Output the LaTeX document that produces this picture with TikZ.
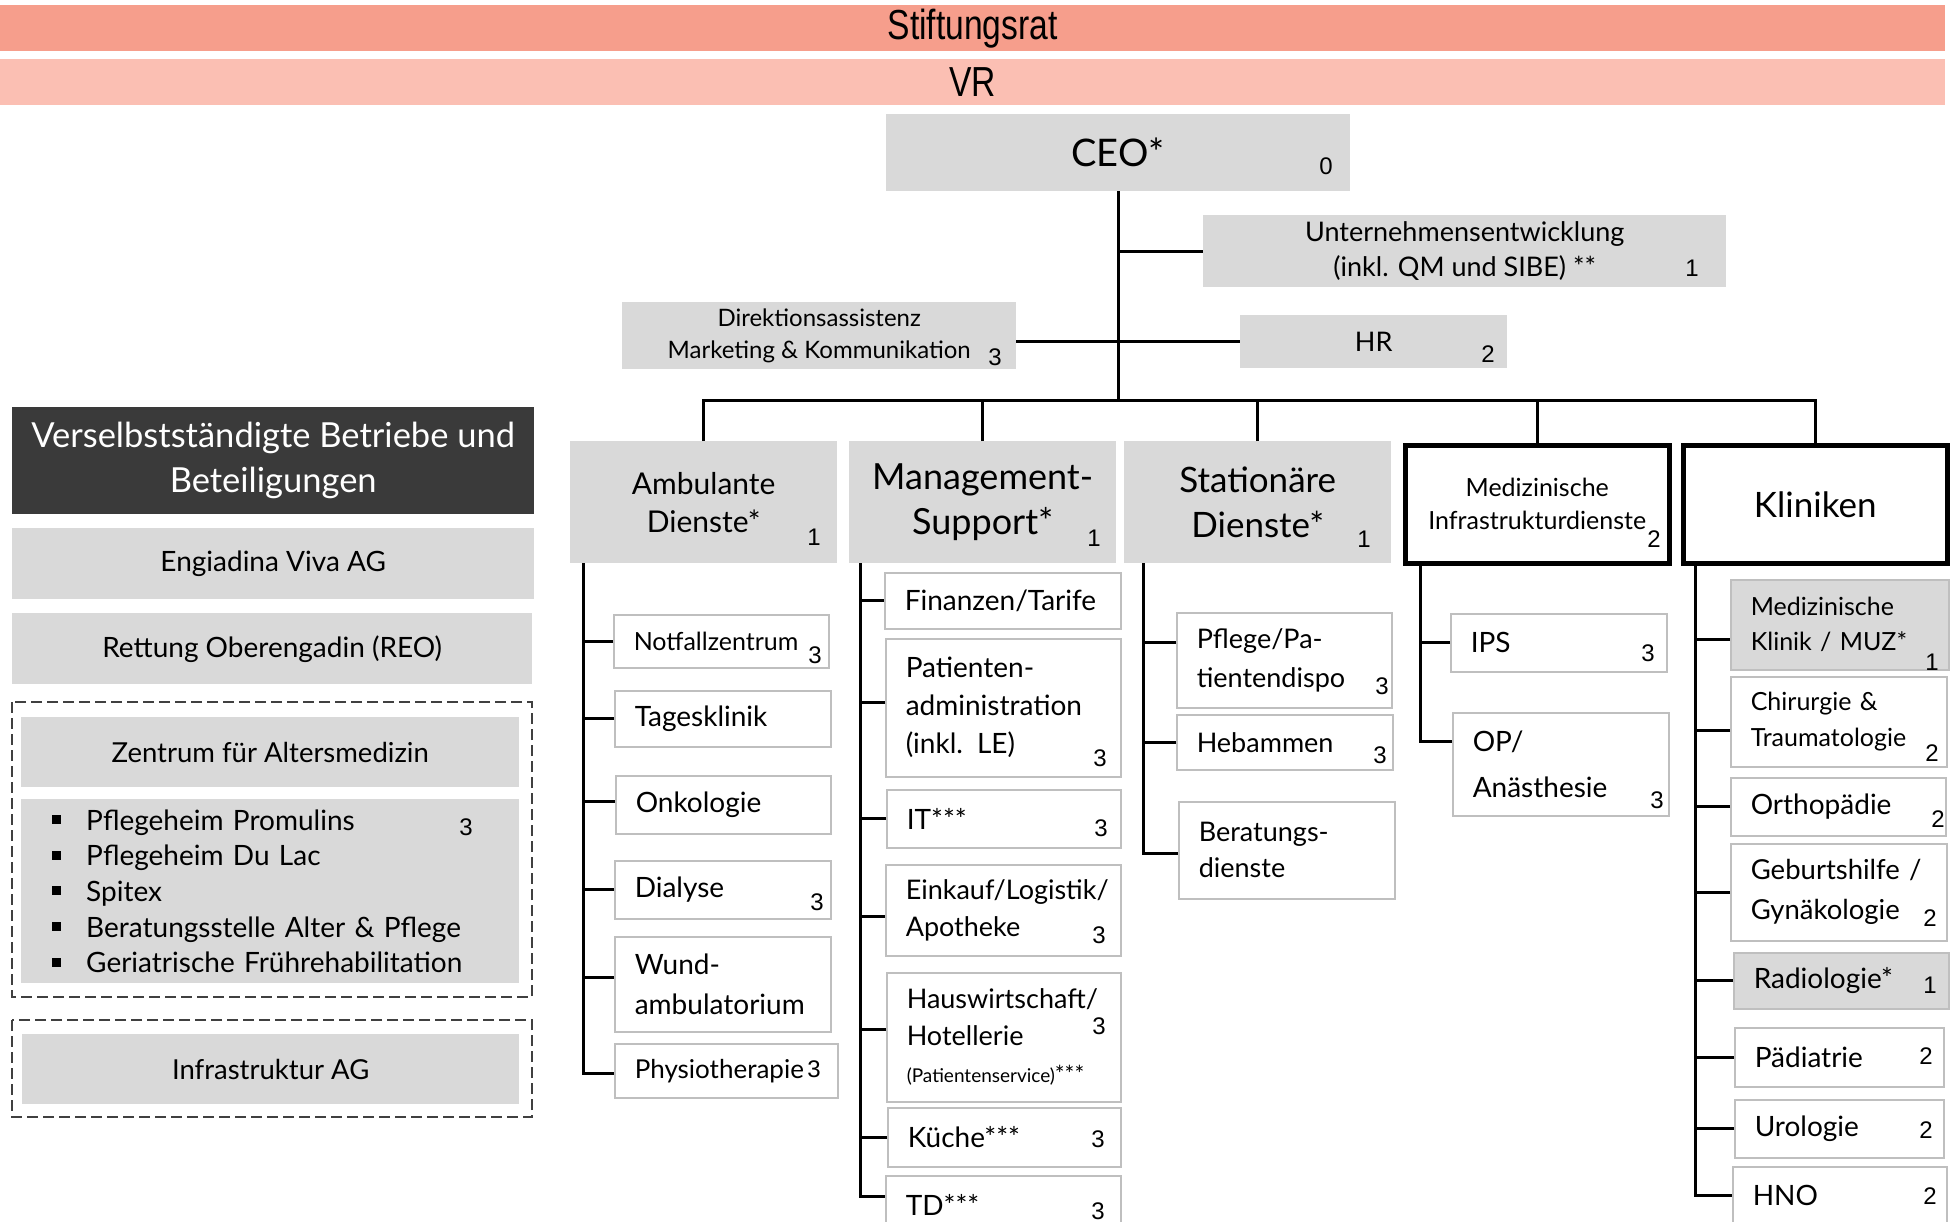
\documentclass[tikz,border=0pt]{standalone}
\usepackage{fontspec}
\setmainfont{Lato}
\newfontfamily\arialfont{Liberation Sans}
\usepackage{graphicx}
\usepackage{tikz}

\definecolor{ratred}{HTML}{F69E8C}
\definecolor{vrpink}{HTML}{FBBFB3}
\definecolor{boxgray}{HTML}{D9D9D9}
\definecolor{darkbox}{HTML}{3A3A3A}
\definecolor{rimgray}{HTML}{BFBFBF}

\newcommand{\fsz}[2]{\fontsize{#1}{#2}\selectfont}
\newcommand{\bul}{\makebox[34pt][l]{\rule[6pt]{9pt}{9pt}}}
\hyphenpenalty=10000
\exhyphenpenalty=10000

\tikzset{
  conn/.style = {line width=3pt},
  topbar/.style = {anchor=north west, inner sep=0pt, minimum width=1945pt,
    minimum height=46pt, font=\arialfont\fsz{42}{42}},
  headbox/.style = {fill=boxgray, anchor=north west, inner sep=0pt, align=center},
  thickhead/.style = {draw=black, line width=4.5pt, anchor=north west,
    inner sep=0pt, align=center},
  subbox/.style = {draw=rimgray, line width=1.5pt, fill=white, anchor=north west,
    inner xsep=20pt, inner ysep=0pt, align=left, font=\fsz{28}{40}},
  graysub/.style = {subbox, fill=boxgray},
  numlabel/.style = {inner sep=0pt, font=\arialfont\fsz{24}{24}},
  dashframe/.style = {draw=black!75, line width=1.2pt, dash pattern=on 11pt off 5pt}
}

\begin{document}
\begin{tikzpicture}[x=1pt, y=-1pt]
\useasboundingbox (0,0) rectangle (1958,1222);
\clip (0,0) rectangle (1958,1222);

\node[topbar, fill=ratred] (rat) at (0,5) {\raisebox{-4pt}{\scalebox{0.8}[1]{Stiftungsrat}}};
\node[topbar, fill=vrpink] (vr) at (0,59) {\scalebox{0.8}[1]{VR}};

\node[headbox, minimum width=464pt, minimum height=77pt, font=\fsz{38}{40}] (ceo) at (886,114) {CEO*};
\node[headbox, minimum width=523pt, minimum height=72pt, font=\fsz{27}{35}] (unt) at (1203,215)
  {Unternehmensentwicklung\\(inkl. QM und SIBE) **};
\node[headbox, minimum width=394pt, minimum height=67pt, font=\fsz{24}{32}] (dir) at (622,302)
  {Direktionsassistenz\\Marketing \& Kommunikation};
\node[headbox, minimum width=267pt, minimum height=53pt, font=\fsz{27}{30}] (hr) at (1240,315) {HR};

% linke Spalte
\node[headbox, fill=darkbox, text=white, minimum width=522pt, minimum height=107pt, font=\fsz{34.5}{45}] (selb) at (12,407)
  {Verselbstständigte Betriebe und\\Beteiligungen};
\node[headbox, minimum width=522pt, minimum height=71pt, font=\fsz{28}{32}] (eng) at (12,528) {Engiadina Viva AG};
\node[headbox, minimum width=520pt, minimum height=71pt, font=\fsz{28}{32}] (reo) at (12,613) {Rettung Oberengadin (REO)};
\draw[dashframe] (12,702) rectangle (532,997);
\node[headbox, minimum width=498pt, minimum height=70pt, font=\fsz{27.5}{32}] (zam) at (21,717) {Zentrum für Altersmedizin};
\node[headbox, align=left, text width=436pt, inner xsep=31pt, minimum height=184pt, font=\fsz{28}{35.7}] (heime) at (21,799)
  {\bul Pflegeheim Promulins\\\bul Pflegeheim Du Lac\\\bul Spitex\\\bul Beratungsstelle Alter \& Pflege\\\bul Geriatrische Frührehabilitation};
\draw[dashframe] (12,1020) rectangle (532,1117);
\node[headbox, minimum width=497pt, minimum height=70pt, font=\fsz{27.5}{32}] (iag) at (22,1034) {Infrastruktur AG};

% Bereiche
\node[headbox, minimum width=267pt, minimum height=122pt, font=\fsz{30}{38}] (amb) at (570,441) {Ambulante\\Dienste*};
\node[headbox, minimum width=267pt, minimum height=122pt, font=\fsz{36}{45}] (mgmt) at (849,441) {Management-\\Support*};
\node[headbox, minimum width=267pt, minimum height=122pt, font=\fsz{35}{45}] (stat) at (1124,441) {Stationäre\\Dienste*};
\node[thickhead, minimum width=264pt, minimum height=118pt, font=\fsz{25}{33}] (infra) at (1403,443) {Medizinische\\Infrastrukturdienste};
\node[thickhead, minimum width=264pt, minimum height=118pt, font=\fsz{35}{40}] (klin) at (1681,443) {Kliniken};

\node[subbox, text width=175pt, minimum height=53pt, font=\fsz{25}{30}] (notf) at (613,614) {Notfallzentrum};
\node[subbox, text width=176pt, minimum height=56pt] (tages) at (614,690) {Tagesklinik};
\node[subbox, text width=175pt, minimum height=58pt] (onko) at (615,775) {Onkologie};
\node[subbox, text width=176pt, minimum height=58pt] (dial) at (614,860) {Dialyse};
\node[subbox, text width=176pt, minimum height=95pt, font=\fsz{28}{40}] (wund) at (614,936) {Wund-\\ambulatorium};
\node[subbox, text width=183pt, minimum height=54pt, font=\fsz{26}{30}] (phys) at (614,1043) {Physiotherapie};

\node[subbox, text width=196pt, minimum height=56pt] (fin) at (884,572) {Finanzen/Tarife};
\node[subbox, text width=195pt, minimum height=138pt, font=\fsz{28}{38}] (pat) at (885,638) {Patienten-\\administration\\(inkl. LE)};
\node[subbox, text width=194pt, minimum height=58pt] (it) at (886,789) {IT***};
\node[subbox, text width=195pt, minimum height=91pt, font=\fsz{27}{37}] (eink) at (885,864) {Einkauf/Logistik/\\Apotheke};
\node[subbox, text width=194pt, minimum height=129pt, font=\fsz{27}{37}] (hausw) at (886,972)
  {Hauswirtschaft/\\Hotellerie\\{\fsz{19}{37}(Patientenservice)}{\fsz{23}{37}***}};
\node[subbox, text width=193pt, minimum height=59pt] (kueche) at (887,1107) {Küche***};
\node[subbox, text width=195pt, minimum height=58pt] (td) at (885,1175) {TD***};

\node[subbox, text width=175pt, minimum height=95pt, font=\fsz{27}{39}] (pfl) at (1176,612) {Pflege/Pa-\\tientendispo};
\node[subbox, text width=176pt, minimum height=55pt, font=\fsz{27}{30}] (heb) at (1176,714) {Hebammen};
\node[subbox, text width=176pt, minimum height=97pt, font=\fsz{27}{36}] (ber) at (1178,801) {Beratungs-\\dienste};

\node[subbox, text width=176pt, minimum height=58pt] (ips) at (1450,613) {IPS};
\node[subbox, text width=176pt, minimum height=103pt, font=\fsz{28}{46}] (op) at (1452,712) {OP/\\Anästhesie};

\node[graysub, text width=178pt, minimum height=90pt, font=\fsz{25}{35}] (medk) at (1730,579) {Medizinische\\Klinik / MUZ*};
\node[subbox, text width=176pt, minimum height=90pt, font=\fsz{25}{36}] (chir) at (1730,676) {Chirurgie \&\\Traumatologie};
\node[subbox, text width=175pt, minimum height=58pt] (ortho) at (1730,777) {Orthopädie};
\node[subbox, text width=176pt, minimum height=97pt, font=\fsz{27.5}{40}] (geb) at (1730,843) {Geburtshilfe~/\\Gynäkologie};
\node[graysub, text width=175pt, minimum height=56pt] (radio) at (1733,952) {Radiologie*};
\node[subbox, text width=169pt, minimum height=59pt] (paed) at (1734,1027) {Pädiatrie};
\node[subbox, text width=169pt, minimum height=58pt] (uro) at (1734,1099) {Urologie};
\node[subbox, text width=174pt, minimum height=58pt] (hno) at (1732,1166) {HNO};

% Stufen
\foreach \p/\v [count=\i] in {(1326,166)/0, (1692,268)/1, (995,357)/3, (1488,354)/2,
    (814,537)/1, (1094,538)/1, (1364,539)/1, (1654,539)/2,
    (815,655)/3, (817,902)/3, (814,1069)/3,
    (1100,758)/3, (1101,828)/3, (1099,935)/3, (1099,1026)/3, (1098,1139)/3, (1098,1211)/3,
    (1382,686)/3, (1380,755)/3, (1648,653)/3, (1657,800)/3,
    (1932,662)/1, (1932,753)/2, (1938,819)/2, (1930,918)/2, (1930,985)/1,
    (1926,1056)/2, (1926,1130)/2, (1930,1196)/2, (466,827)/3}
  \node[numlabel] (num\i) at \p {\v};

% Linien
\coordinate (bus) at (0,400);
\draw[conn] (ceo.south) -- (ceo.south |- bus);
\draw[conn] (unt.west -| ceo.south) -- (unt.west);
\draw[conn] (dir.east |- hr.west) -- (hr.west);
\draw[conn] (amb.north) |- (klin.north |- bus) -- (klin.north);
\foreach \h in {mgmt,stat,infra}
  \draw[conn] (\h.north) -- (\h.north |- bus);

\coordinate (ambv) at ([xshift=13pt]amb.south west);
\draw[conn] (ambv) |- ([yshift=-3pt]phys.west);
\foreach \c/\s in {notf/0,tages/0,onko/3,dial/0,wund/7}
  \draw[conn] ([yshift=\s pt]\c.west) -- ([yshift=\s pt]\c.west -| ambv);

\coordinate (mgmtv) at ([xshift=11pt]mgmt.south west);
\draw[conn] (mgmtv) |- ([yshift=8pt]td.west);
\foreach \c/\s in {fin/0,pat/5,it/0,eink/-6,hausw/8,kueche/0}
  \draw[conn] ([yshift=\s pt]\c.west) -- ([yshift=\s pt]\c.west -| mgmtv);

\coordinate (statv) at ([xshift=19pt]stat.south west);
\draw[conn] (statv) |- ([yshift=-3pt]ber.west);
\foreach \c/\s in {pfl/18,heb/0}
  \draw[conn] ([yshift=\s pt]\c.west) -- ([yshift=\s pt]\c.west -| statv);

\coordinate (infrav) at ([xshift=17pt]infra.south west);
\draw[conn] (infrav) |- ([yshift=23pt]op.west);
\draw[conn] (ips.west) -- (ips.west -| infrav);

\coordinate (klinv) at ([xshift=14pt]klin.south west);
\draw[conn] (klinv) |- (hno.west);
\foreach \c/\s in {medk/-15,chir/-9,ortho/0,geb/0,radio/0,paed/0,uro/0}
  \draw[conn] ([yshift=\s pt]\c.west) -- ([yshift=\s pt]\c.west -| klinv);

\end{tikzpicture}
\end{document}
